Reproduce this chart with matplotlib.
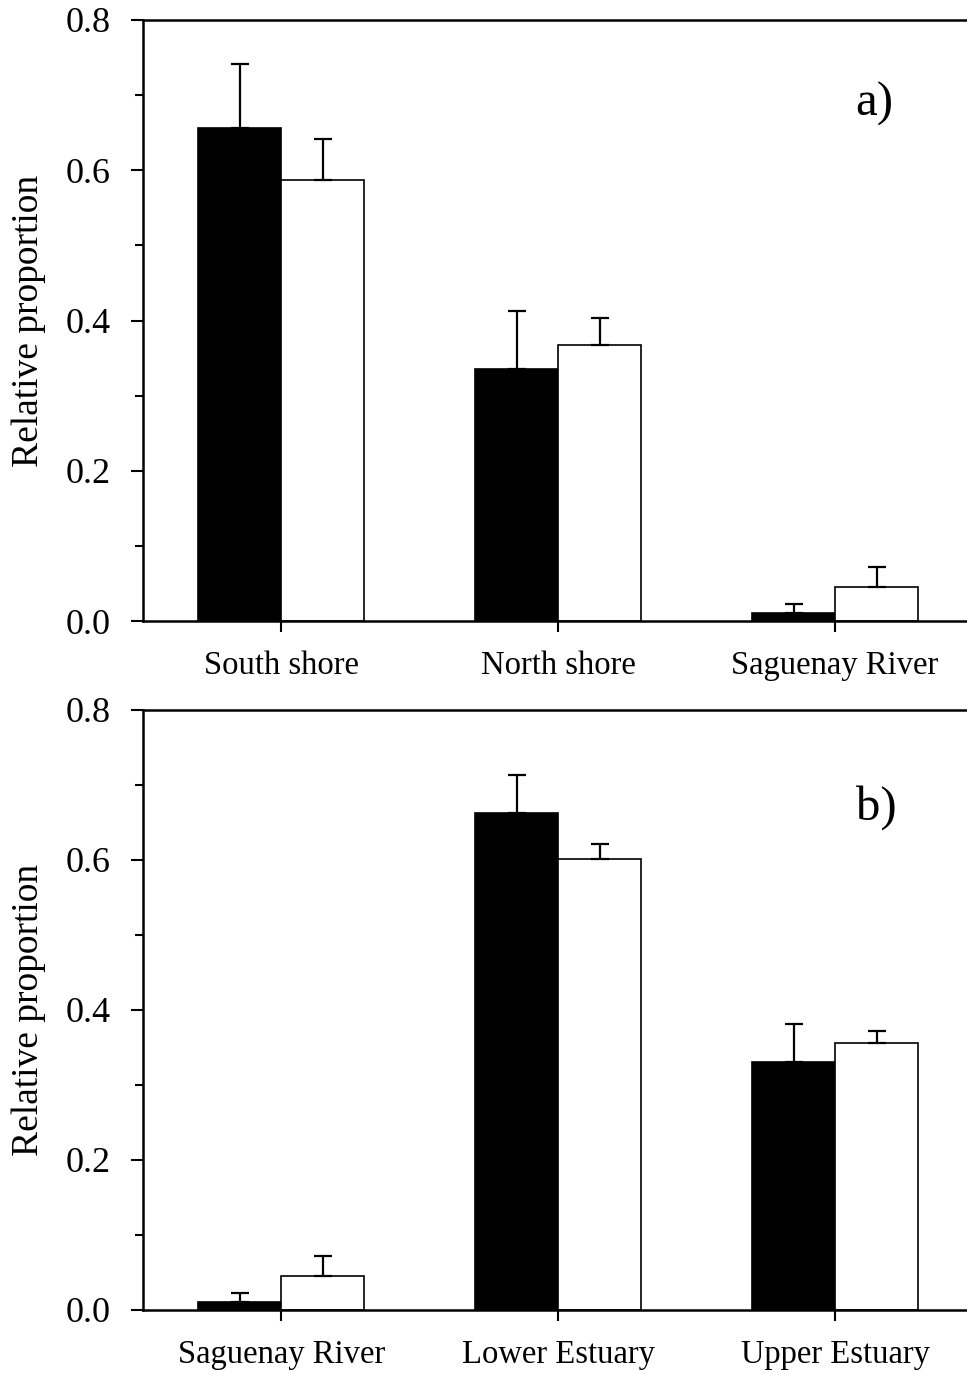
import numpy as np
import matplotlib
matplotlib.use("Agg")
from matplotlib import pyplot as plt
from matplotlib.ticker import MultipleLocator

plt.rcParams['font.family'] = ['Liberation Serif', 'DejaVu Serif']

# panel a
cats_a = ['South shore', 'North shore', 'Saguenay River']
black_a = [0.656, 0.335, 0.011]
black_a_err = [0.085, 0.077, 0.012]
white_a = [0.587, 0.367, 0.045]
white_a_err = [0.054, 0.036, 0.027]

# panel b
cats_b = ['Saguenay River', 'Lower Estuary', 'Upper Estuary']
black_b = [0.011, 0.663, 0.331]
black_b_err = [0.012, 0.050, 0.050]
white_b = [0.046, 0.601, 0.356]
white_b_err = [0.026, 0.020, 0.016]

W, H = 967, 1374
fig = plt.figure(figsize=(W / 100, H / 100), dpi=100)

left = 143 / W
width = 830.5 / W


def panel(rect, cats, bv, be, wv, we, tag, tag_xy):
    ax = fig.add_axes(rect)
    x = np.arange(len(cats))
    bw = 0.3
    ax.bar(x - bw / 2, bv, bw, color='black', edgecolor='black', linewidth=1.2, zorder=2)
    ax.bar(x + bw / 2, wv, bw, color='white', edgecolor='black', linewidth=1.2, zorder=2)
    ax.errorbar(x - bw / 2, bv, yerr=[np.zeros(len(bv)), be], fmt='none',
                ecolor='black', elinewidth=1.6, capsize=6.5, capthick=1.6, zorder=3)
    ax.errorbar(x + bw / 2, wv, yerr=[np.zeros(len(wv)), we], fmt='none',
                ecolor='black', elinewidth=1.6, capsize=6.5, capthick=1.6, zorder=3)
    ax.set_xlim(-0.5, 2.5)
    ax.set_ylim(0, 0.8)
    ax.set_xticks(x)
    ax.set_xticklabels(cats, fontsize=23.5)
    ax.set_yticks([0.0, 0.2, 0.4, 0.6, 0.8])
    ax.set_yticklabels(['0.0', '0.2', '0.4', '0.6', '0.8'], fontsize=26)
    ax.yaxis.set_minor_locator(MultipleLocator(0.1))
    ax.tick_params(axis='y', which='major', direction='out', length=9, width=1.5, pad=14)
    ax.tick_params(axis='y', which='minor', direction='out', length=6, width=1.5)
    ax.tick_params(axis='x', which='major', direction='out', length=8, width=1.5, pad=13)
    for s in ['left', 'bottom', 'top']:
        ax.spines[s].set_linewidth(1.8)
    ax.spines['right'].set_visible(False)
    ax.set_ylabel('Relative proportion', fontsize=27)
    ax.yaxis.set_label_coords(-0.117, 0.5)
    ax.text(tag_xy[0], tag_xy[1], tag, transform=ax.transAxes, fontsize=35,
            ha='center', va='center')
    return ax


panel([left, 1 - 621 / H, width, 601 / H], cats_a, black_a, black_a_err,
      white_a, white_a_err, 'a)', (0.880, 0.860))
panel([left, 1 - 1310 / H, width, 600 / H], cats_b, black_b, black_b_err,
      white_b, white_b_err, 'b)', (0.883, 0.837))

fig.savefig('out.png', dpi=100)
